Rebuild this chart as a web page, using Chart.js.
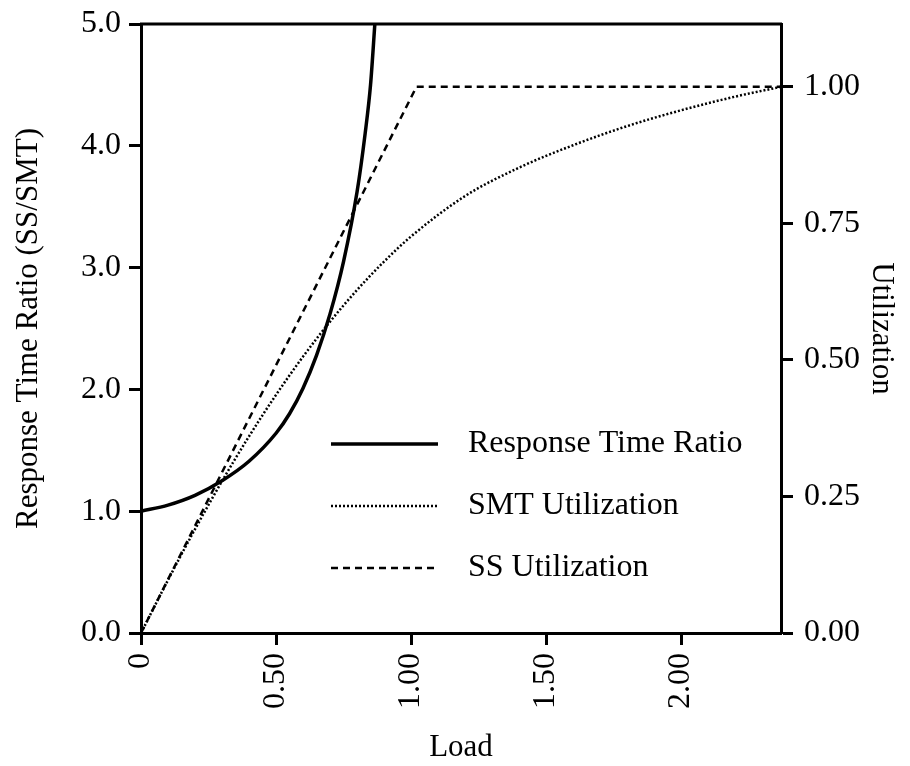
<!DOCTYPE html>
<html>
<head>
<meta charset="utf-8">
<script src="https://cdn.jsdelivr.net/npm/chart.js@4/dist/chart.umd.min.js"></script>
<style>
  html, body { margin: 0; padding: 0; background: #fff; }
  #wrap { width: 910px; height: 766px; }
</style>
</head>
<body>
<div id="wrap"><canvas id="chart" width="910" height="766"></canvas></div>
<script>
// Данные
const loadRT  = [0, 0.1, 0.2, 0.3, 0.4, 0.5, 0.55, 0.6, 0.65, 0.7, 0.75, 0.8, 0.83, 0.85, 0.866]
const ratioRT = [1.0, 1.05, 1.13, 1.25, 1.41, 1.64, 1.80, 2.01, 2.28, 2.62, 3.05, 3.62, 4.1, 4.5, 5.0]

const loadSMT = [0, 0.1, 0.2, 0.3, 0.4, 0.5, 0.6, 0.7, 0.8, 0.9, 1.0, 1.2, 1.4, 1.6, 1.8, 2.0, 2.2, 2.37]
const utilSMT = [0, 0.097, 0.19, 0.278, 0.36, 0.436, 0.506, 0.57, 0.628, 0.68, 0.726, 0.80, 0.852, 0.893, 0.928, 0.957, 0.982, 1.0]

const loadSS = [0, 1.02, 2.37]
const utilSS = [0, 1.0, 1.0]

const xTicks = [0, 0.5, 1.0, 1.5, 2.0]
const legendLabels = ["Response Time Ratio", "SMT Utilization", "SS Utilization"]

const FONT = "'Liberation Serif', 'Times New Roman', serif"
const zip = (xs, ys) => xs.map((x, i) => ({ x, y: ys[i] }))

// Рамка сверху и легенда внутри области графика
const framePlugin = {
  id: "frame",
  afterDraw(chart) {
    const { ctx, chartArea } = chart
    ctx.save()
    ctx.strokeStyle = "#000"
    ctx.lineWidth = 3
    ctx.beginPath()
    ctx.moveTo(chartArea.left - 1, chartArea.top)
    ctx.lineTo(chartArea.right + 1, chartArea.top)
    ctx.stroke()

    const x0 = chartArea.left + 190
    const x1 = chartArea.left + 297
    const rows = [chartArea.top + 420, chartArea.top + 482, chartArea.top + 544]
    chart.data.datasets.forEach((ds, i) => {
      ctx.strokeStyle = "#000"
      ctx.lineWidth = ds.borderWidth
      ctx.setLineDash(ds.borderDash || [])
      ctx.beginPath()
      ctx.moveTo(x0, rows[i])
      ctx.lineTo(x1, rows[i])
      ctx.stroke()
      ctx.setLineDash([])
      ctx.fillStyle = "#000"
      ctx.font = "32px " + FONT
      ctx.textBaseline = "middle"
      ctx.textAlign = "left"
      ctx.fillText(legendLabels[i], x1 + 30, rows[i])
    })
    ctx.restore()
  }
}

new Chart(document.getElementById("chart"), {
  type: "line",
  data: {
    datasets: [
      {
        label: legendLabels[0],
        data: zip(loadRT, ratioRT),
        yAxisID: "y",
        borderColor: "#000",
        borderWidth: 3.5,
        pointRadius: 0,
        cubicInterpolationMode: "monotone"
      },
      {
        label: legendLabels[1],
        data: zip(loadSMT, utilSMT),
        yAxisID: "y2",
        borderColor: "#000",
        borderWidth: 2.5,
        borderDash: [2, 2],
        pointRadius: 0,
        cubicInterpolationMode: "monotone"
      },
      {
        label: legendLabels[2],
        data: zip(loadSS, utilSS),
        yAxisID: "y2",
        borderColor: "#000",
        borderWidth: 2.5,
        borderDash: [7, 5],
        pointRadius: 0,
        tension: 0
      }
    ]
  },
  options: {
    responsive: false,
    animation: false,
    layout: { padding: { top: 24, left: 0, right: 0, bottom: 0 } },
    plugins: {
      legend: { display: false },
      tooltip: { enabled: false }
    },
    scales: {
      x: {
        type: "linear",
        min: 0,
        max: 2.37,
        afterFit(scale) { scale.height = 133 },
        afterBuildTicks(scale) { scale.ticks = xTicks.map(v => ({ value: v })) },
        border: { display: true, color: "#000", width: 3 },
        grid: { drawOnChartArea: false, drawTicks: true, tickLength: 12, tickWidth: 3, tickColor: "#000" },
        ticks: {
          color: "#000",
          font: { family: FONT, size: 32 },
          minRotation: 90,
          maxRotation: 90,
          padding: 8,
          callback: v => (v === 0 ? "0" : v.toFixed(2))
        },
        title: {
          display: true,
          text: "Load",
          color: "#000",
          font: { family: FONT, size: 31 },
          padding: { top: 3, bottom: 0 }
        }
      },
      y: {
        position: "left",
        min: 0,
        max: 5,
        afterFit(scale) { scale.width = 141; scale.paddingTop = 0 },
        border: { display: true, color: "#000", width: 3 },
        grid: { drawOnChartArea: false, drawTicks: true, tickLength: 12, tickWidth: 3, tickColor: "#000" },
        ticks: {
          stepSize: 1,
          color: "#000",
          font: { family: FONT, size: 32 },
          padding: 8,
          callback: v => v.toFixed(1)
        },
        title: {
          display: true,
          text: "Response Time Ratio (SS/SMT)",
          color: "#000",
          font: { family: FONT, size: 31 },
          padding: { top: 10, bottom: 0 }
        }
      },
      y2: {
        position: "right",
        min: 0,
        max: 1.115,
        afterFit(scale) { scale.width = 129; scale.paddingTop = 0 },
        border: { display: true, color: "#000", width: 3 },
        grid: { drawOnChartArea: false, drawTicks: true, tickLength: 12, tickWidth: 3, tickColor: "#000" },
        ticks: {
          stepSize: 0.25,
          includeBounds: false,
          color: "#000",
          font: { family: FONT, size: 32 },
          padding: 11,
          callback: v => v.toFixed(2)
        },
        title: {
          display: true,
          text: "Utilization",
          color: "#000",
          font: { family: FONT, size: 31 },
          padding: { top: 10, bottom: 0 }
        }
      }
    }
  },
  plugins: [framePlugin]
})
</script>
</body>
</html>
